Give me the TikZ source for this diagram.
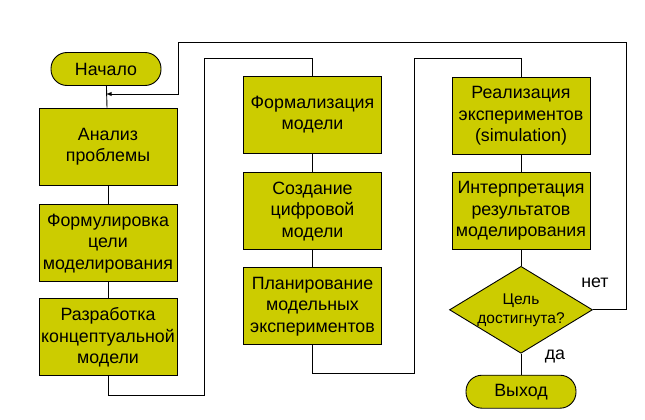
\documentclass[tikz,border=0pt]{standalone}
\usepackage{fontspec}
\setmainfont{Liberation Sans}
\usetikzlibrary{positioning,shapes.geometric}

\definecolor{boxfill}{RGB}{204,204,0}

\tikzset{
  stage/.style={draw, fill=boxfill, line width=0.9pt, minimum width=138pt, minimum height=77pt,
    inner sep=0.5pt, align=center, font=\fontsize{17.8}{21.5}\selectfont},
  term/.style={draw, fill=boxfill, line width=0.9pt, rounded corners=16pt, minimum width=110pt,
    minimum height=33pt, font=\fontsize{17.8}{21.5}\selectfont},
  check/.style={draw, fill=boxfill, line width=0.9pt, diamond, shape aspect=1.64, inner sep=0pt,
    minimum width=143pt, minimum height=87pt, align=center, font=\fontsize{15.5}{19}\selectfont},
  flow/.style={line width=0.9pt},
}

\begin{document}
\begin{tikzpicture}[x=1pt, y=-1pt]
            \useasboundingbox (0,0) rectangle (645,420);

            % first column
            \node[term] (start) at (106,69) {Начало};
            \node[stage] (an) at (108,146.5) {Анализ\\проблемы};
            \node[stage, below=19pt of an] (form) {Формулировка\\цели\\моделирования};
            \node[stage, below=16pt of form] (razr) {Разработка\\концептуальной\\модели};

            % second column
            \node[stage] (formal) at (312.5,114.5) {Формализация\\модели};
            \node[stage, below=19pt of formal] (sozd) {Создание\\цифровой\\модели};
            \node[stage, below=17pt of sozd] (plan) {Планирование\\модельных\\экспериментов};

            % third column
            \node[stage] (real) at (521,116) {Реализация\\экспериментов\\(simulation)};
            \node[stage, below=17pt of real] (interp) {Интерпретация\\результатов\\моделирования};
            \node[check, below=16pt of interp] (dec) {Цель\\достигнута?};
            \node[term, below=21pt of dec] (exit) {Выход};

            \node[font=\fontsize{17.8}{21.5}\selectfont] (no) at (595,283) {нет};
            \node[font=\fontsize{17.8}{21.5}\selectfont] (yes) at (555,356) {да};

            % routing points
            \coordinate (low1) at (204,395);
            \coordinate (high1) at (204,58);
            \coordinate (low2) at (414,373);
            \coordinate (high2) at (414,58);
            \coordinate (ret1) at (626,42);
            \coordinate (ret2) at (178,94);

            \draw[flow] (start) -- (an);
            \draw[flow] (an) -- (form);
            \draw[flow] (form) -- (razr);
            \draw[flow] (razr.south) -- (razr.south |- low1) -- (low1) -- (high1) -- (formal.north |- high1) -- (formal.north);
            \draw[flow] (formal) -- (sozd);
            \draw[flow] (sozd) -- (plan);
            \draw[flow] (plan.south) -- (plan.south |- low2) -- (low2) -- (high2) -- (real.north |- high2) -- (real.north);
            \draw[flow] (real) -- (interp);
            \draw[flow] (interp) -- (dec);
            \draw[flow] (dec) -- (exit);
            \draw[flow, -latex] (dec.east) -| (ret1) -| (ret2) -- (ret2 -| start);

        \end{tikzpicture}
\end{document}
